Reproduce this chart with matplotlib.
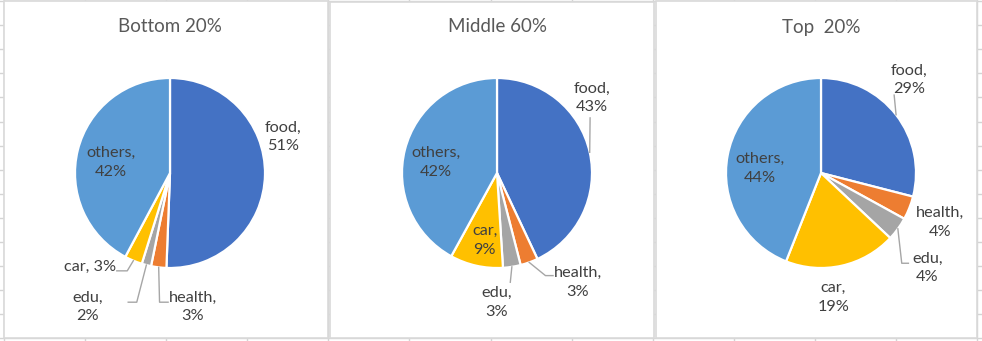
import numpy as np
import matplotlib.pyplot as plt
from matplotlib.patches import Rectangle

plt.rcParams['font.family'] = ['Lato', 'DejaVu Sans']

categories = ["food", "health", "edu", "car", "others"]
titles = ["Bottom 20%", "Middle 60%", "Top  20%"]
bottom_vals = [50.6, 2.6, 1.6, 3.0, 42.2]
middle_vals = [43, 3, 3, 9, 42]
top_vals = [29, 4, 4, 19, 44]
colors = ["#4472C4", "#ED7D31", "#A5A5A5", "#FFC000", "#5B9BD5"]

W, H = 982, 341
fig = plt.figure(figsize=(W / 100, H / 100), dpi=100)

# spreadsheet background
bg = fig.add_axes([0, 0, 1, 1])
bg.set_xlim(0, W)
bg.set_ylim(H, 0)
bg.axis("off")
for x in np.arange(4, W, 81.1):
    bg.axvline(x, color="#D4D4D4", lw=1, zorder=1)
for y in np.arange(1, H, 24.1):
    bg.axhline(y, color="#D4D4D4", lw=1, zorder=1)
boxes = [(4, 1, 324, 337), (330, 2, 324, 336), (656, 1, 321, 337)]
for bx, by, bw, bh in boxes:
    bg.add_patch(Rectangle((bx, by), bw, bh, facecolor="white",
                           edgecolor="#D9D9D9", lw=1.2, zorder=3))

R = 95  # pie radius in pixels
centers = [(170, 173), (497, 173), (821, 173)]
title_y = 27

# label positions (in pie radii) and leader paths: idx -> [elbow, end]
label_pos = [
    [(1.19, 0.38), (0.24, -1.41), (-0.87, -1.41), (-0.84, -0.99), (-0.62, 0.11)],
    [(1.0, 0.79), (0.85, -1.15), (0.0, -1.36), (-0.13, -0.71), (-0.64, 0.11)],
    [(0.93, 0.98), (1.25, -0.52), (1.12, -1.0), (0.13, -1.31), (-0.64, 0.05)],
]
leaders = [
    {1: [(-0.11, -1.36), (-0.02, -1.36)],
     2: [(-0.35, -1.36), (-0.44, -1.36)],
     3: [(-0.45, -1.03), (-0.56, -1.03)]},
    {0: [(0.98, 0.58)],
     1: [(0.51, -1.08), (0.59, -1.08)],
     2: [(0.14, -1.15)]},
    {0: [(0.77, 0.82)],
     2: [(0.85, -0.95), (0.92, -0.95)]},
]
one_line = {(0, 3)}

for k, vals in enumerate([bottom_vals, middle_vals, top_vals]):
    cx, cy = centers[k]
    aw, ah = 320, 330
    ax = fig.add_axes([(cx - aw / 2) / W, 1 - (cy + ah / 2) / H, aw / W, ah / H])
    ax.axis("off")
    wedges, _ = ax.pie(vals, colors=colors, startangle=90, counterclock=False,
                       radius=1, wedgeprops=dict(edgecolor="white", linewidth=1.6))
    ax.set_xlim(-aw / 2 / R, aw / 2 / R)
    ax.set_ylim(-ah / 2 / R, ah / 2 / R)
    total = sum(vals)
    for i, w in enumerate(wedges):
        pct = round(vals[i] / total * 100)
        sep = " " if (k, i) in one_line else "\n"
        lx, ly = label_pos[k][i]
        ax.text(lx, ly, f"{categories[i]},{sep}{pct}%", ha="center", va="center",
                fontsize=11.7, color="#404040", linespacing=1.45)
        if i in leaders[k]:
            mid = np.deg2rad((w.theta1 + w.theta2) / 2)
            pts = [(np.cos(mid), np.sin(mid))] + leaders[k][i]
            xs, ys = zip(*pts)
            ax.plot(xs, ys, color="#A6A6A6", lw=1)
    fig.text(cx / W, 1 - title_y / H, titles[k], ha="center", va="center",
             fontsize=13.5, color="#595959")

fig.savefig("out.png", dpi=100)
